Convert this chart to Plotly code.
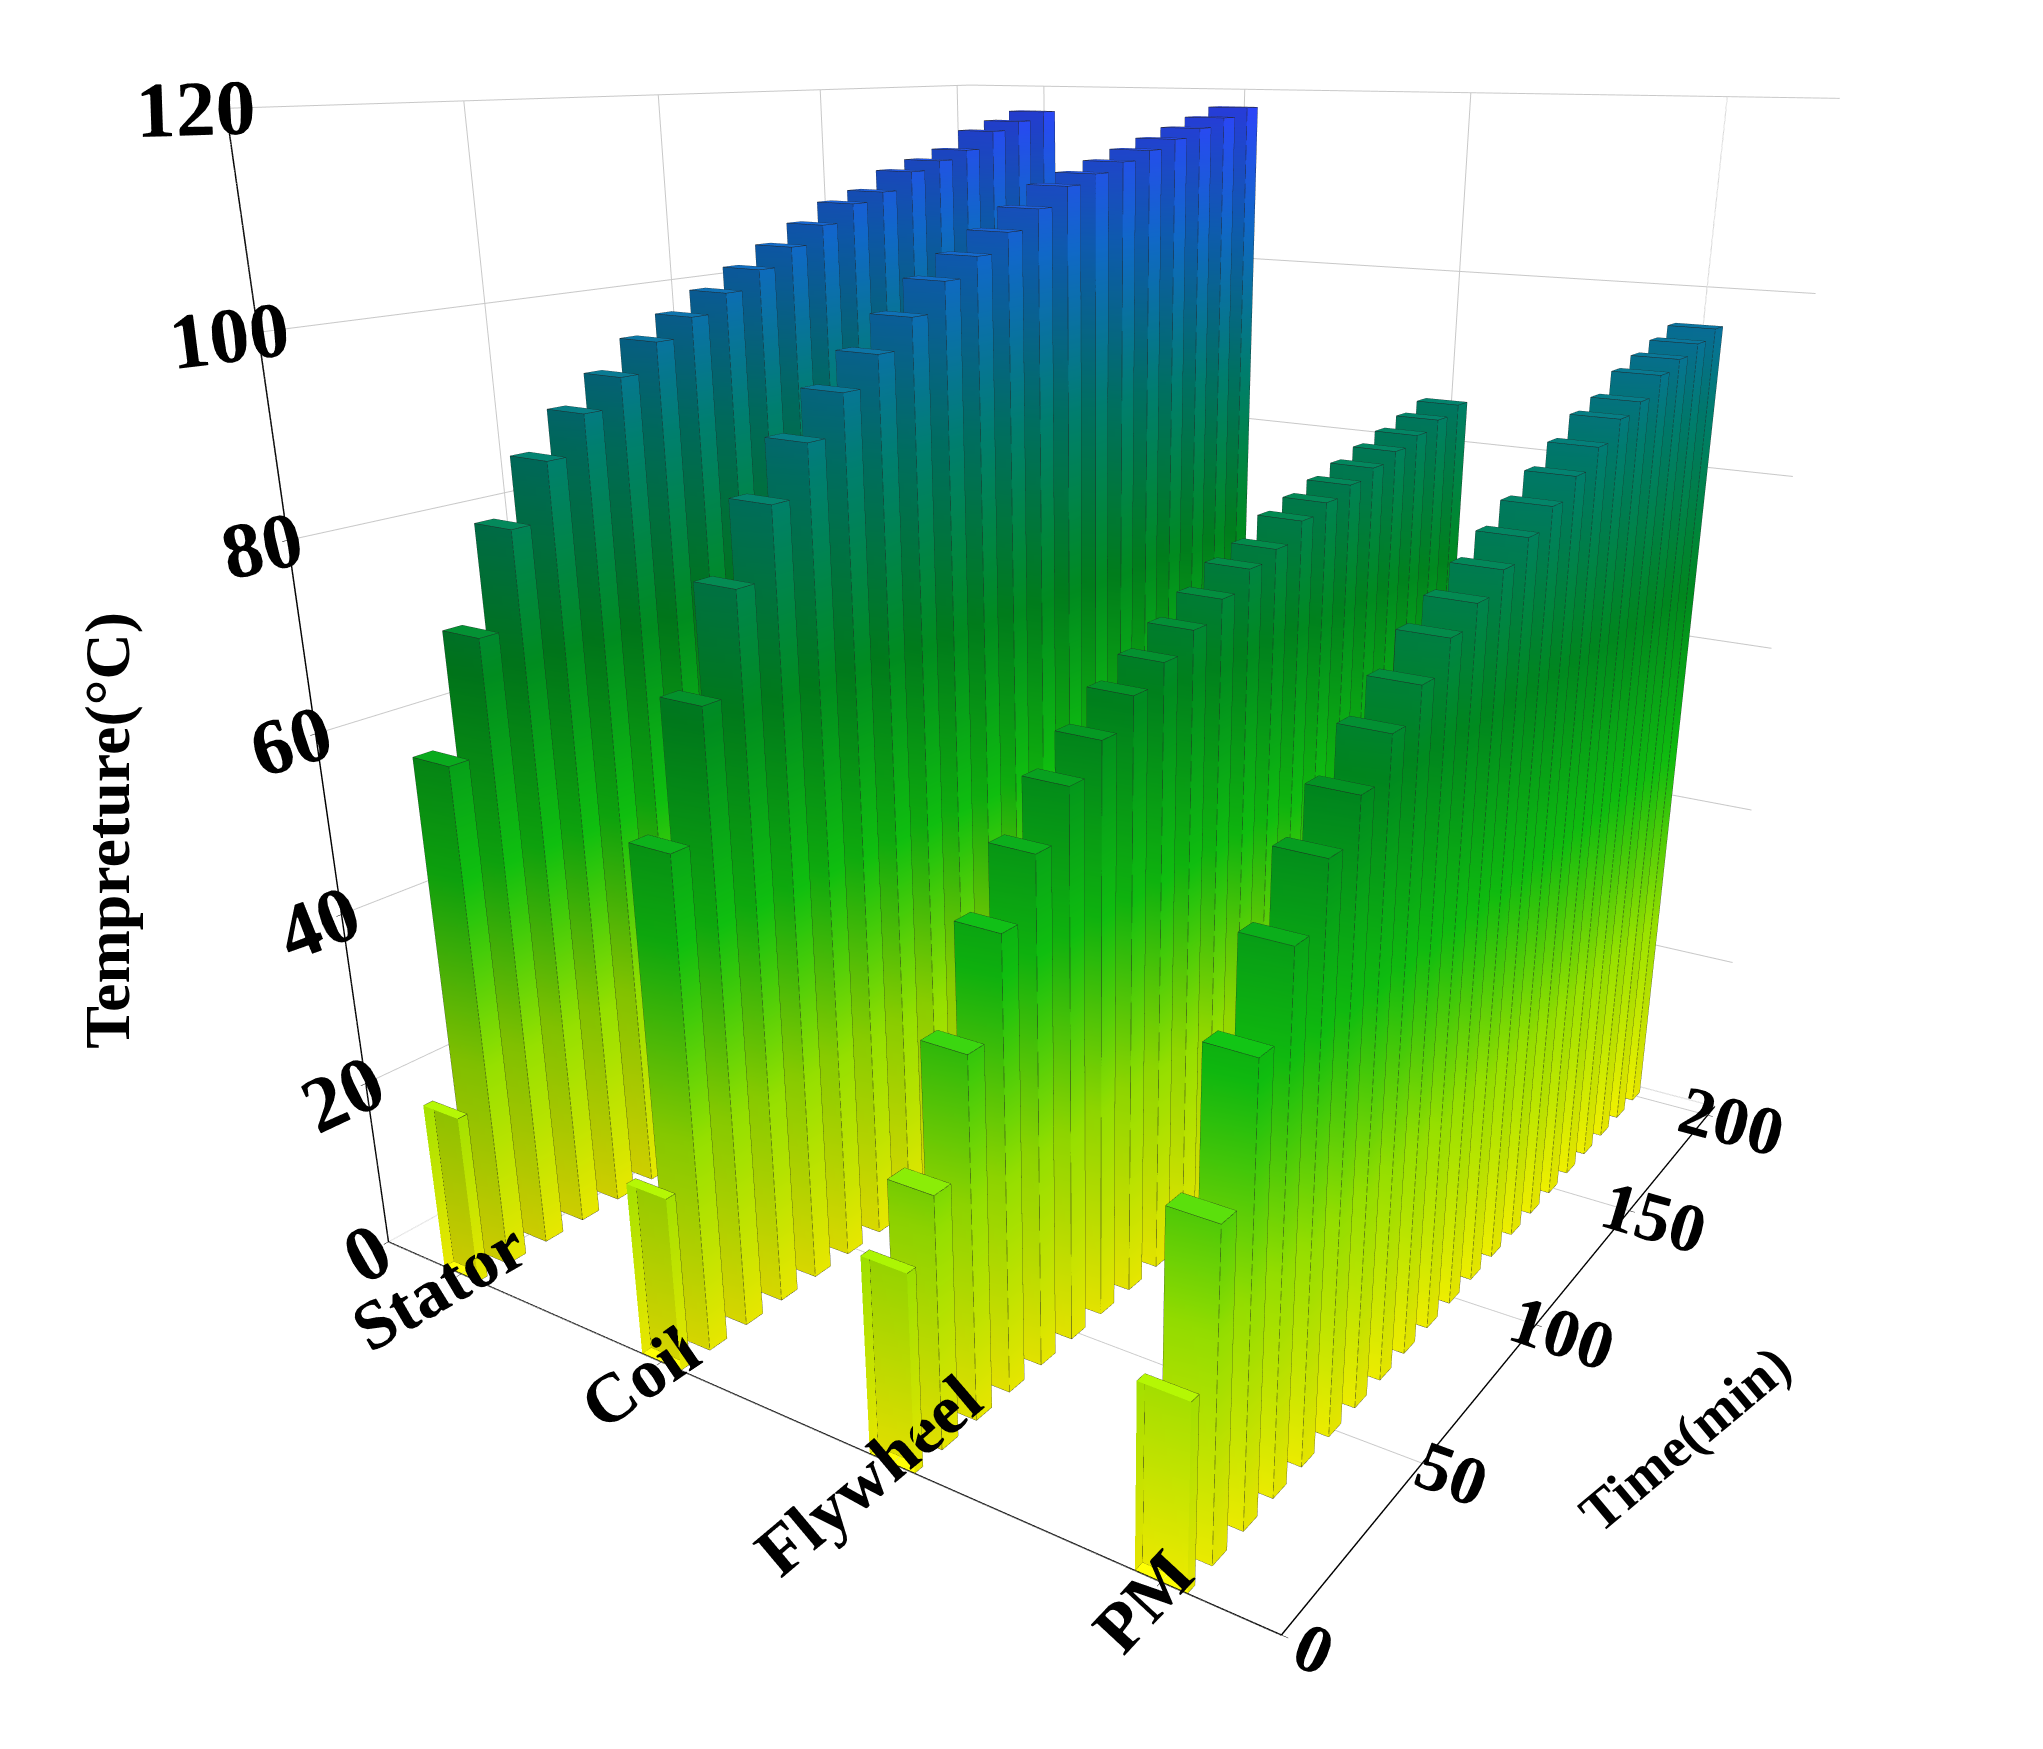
import numpy as np
import plotly.graph_objects as go

# data
time = list(range(0, 201, 10))
parts = ["Stator", "Coil", "Flywheel", "PM"]
stator = [20, 58, 70, 80, 86, 90, 93, 96, 98, 100, 102, 104, 106, 108, 109, 111, 112, 113, 115, 116, 117]
coil = [20, 55, 68, 78, 85, 90, 94, 97, 100, 103, 105, 107, 109, 111, 112, 113, 114, 115, 116, 117, 118]
flywheel = [22, 28, 40, 50, 56, 61, 64, 67, 69, 71, 73, 75, 76, 78, 79, 80, 81, 82, 83, 84, 85]
pm = [20, 35, 48, 56, 62, 66, 70, 73, 76, 78, 80, 82, 84, 86, 88, 90, 91, 93, 94, 95, 96]
series = [stator, coil, flywheel, pm]

FONT = "Liberation Serif"
BW_T = 2.3   # half width along time
BW_C = 0.09  # half width along category

xs, ys, zs, I, J, K = [], [], [], [], [], []
ex, ey, ez = [], [], []
faces = [(0, 1, 2), (0, 2, 3), (4, 5, 6), (4, 6, 7), (0, 1, 5), (0, 5, 4),
         (1, 2, 6), (1, 6, 5), (2, 3, 7), (2, 7, 6), (3, 0, 4), (3, 4, 7)]
for ci, vals in enumerate(series):
    yc = 3 - ci
    for t, v in zip(time, vals):
        n = len(xs)
        x0, x1 = t - BW_T, t + BW_T
        y0, y1 = yc - BW_C, yc + BW_C
        corners = [(x0, y0, 0), (x1, y0, 0), (x1, y1, 0), (x0, y1, 0),
                   (x0, y0, v), (x1, y0, v), (x1, y1, v), (x0, y1, v)]
        for cx, cy, cz in corners:
            xs.append(cx); ys.append(cy); zs.append(cz)
        for a, b, c in faces:
            I.append(n + a); J.append(n + b); K.append(n + c)
        for a, b in [(0, 1), (1, 2), (2, 3), (3, 0), (4, 5), (5, 6), (6, 7), (7, 4),
                     (0, 4), (1, 5), (2, 6), (3, 7)]:
            ex += [corners[a][0], corners[b][0], None]
            ey += [corners[a][1], corners[b][1], None]
            ez += [corners[a][2], corners[b][2], None]

cscale = [[0, "#ffff00"], [0.2, "#a0f000"], [0.38, "#10c810"], [0.55, "#009020"],
          [0.72, "#008070"], [0.87, "#1068c8"], [1, "#3040ff"]]

fig = go.Figure()
fig.add_trace(go.Mesh3d(x=xs, y=ys, z=zs, i=I, j=J, k=K, intensity=zs,
                        colorscale=cscale, cmin=0, cmax=120, showscale=False,
                        flatshading=True,
                        lighting=dict(ambient=0.75, diffuse=0.5, specular=0.1),
                        lightposition=dict(x=-1000, y=-2000, z=3000)))
fig.add_trace(go.Scatter3d(x=ex, y=ey, z=ez, mode="lines",
                           line=dict(color="#222222", width=1), showlegend=False,
                           hoverinfo="skip"))

common = dict(showbackground=False, gridcolor="#c8c8c8", showline=True,
              linecolor="black", linewidth=3, ticks="outside", tickcolor="black",
              title=dict(text=""))
fig.update_layout(
    width=2043, height=1749, paper_bgcolor="white",
    margin=dict(l=0, r=0, t=0, b=0),
    font=dict(family=FONT, color="black"),
    scene=dict(
        domain=dict(x=[0.06, 1], y=[0, 1]),
        xaxis=dict(common, range=[0, 205], tickvals=[0, 50, 100, 150, 200],
                   ticktext=["<b>%d</b>" % v for v in [0, 50, 100, 150, 200]],
                   tickfont=dict(family=FONT, size=29)),
        yaxis=dict(common, range=[-0.4, 3.4],
                   tickvals=[3, 2, 1, 0], ticktext=["<b>%s</b>" % p for p in parts],
                   tickfont=dict(family=FONT, size=29)),
        zaxis=dict(common, range=[0, 120], tickvals=[0, 20, 40, 60, 80, 100, 120],
                   ticktext=["<b>%d</b>" % v for v in range(0, 121, 20)],
                   tickfont=dict(family=FONT, size=31)),
        aspectmode="manual", aspectratio=dict(x=1.0, y=1.0, z=1.05),
        camera=dict(eye=dict(x=-1.62, y=-1.07, z=0.58), center=dict(x=0, y=0, z=-0.2)),
    ),
    annotations=[
        dict(text="<b>Tempreture(°C)</b>", x=0.03, y=0.53, xref="paper", yref="paper",
             textangle=-90, showarrow=False, font=dict(family=FONT, size=64)),
        dict(text="<b>Time(min)</b>", x=0.88, y=0.12, xref="paper", yref="paper",
             textangle=-40, showarrow=False, font=dict(family=FONT, size=56)),
    ],
)

fig.write_html("out.html")
